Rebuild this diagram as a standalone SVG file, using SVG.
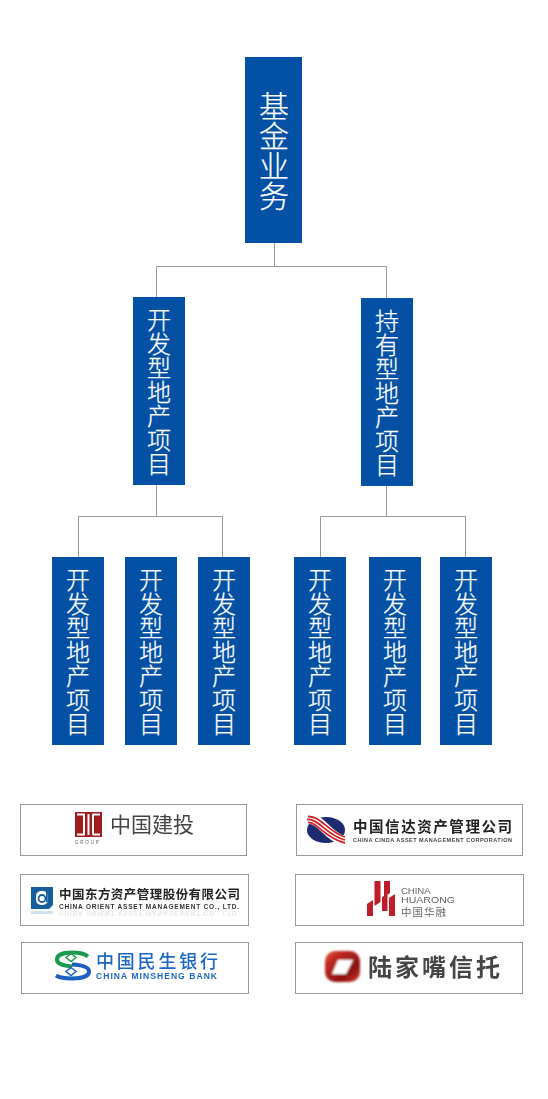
<svg xmlns="http://www.w3.org/2000/svg" width="548" height="1099" viewBox="0 0 548 1099">
<style>
.node{fill:#0450a4}
.t{font-family:"Noto Sans CJK SC","Liberation Sans",sans-serif;fill:#fff;stroke:#fff;stroke-width:.25;text-anchor:middle;font-weight:300}
.t30{font-size:30px}
.t24{font-size:24px}
.conn{fill:none;stroke:#999;stroke-width:1}
.box{fill:#fff;stroke:#999;stroke-width:1}
.c{font-family:"Noto Sans CJK SC","Liberation Sans",sans-serif}
.e{font-family:"Liberation Sans",sans-serif}
.b{font-weight:700}
.soft{filter:url(#soft)}
</style>
<defs>
<filter id="soft" x="-5%" y="-5%" width="110%" height="110%"><feGaussianBlur stdDeviation="0.4"/></filter>
<filter id="soft2" x="-15%" y="-15%" width="130%" height="130%"><feGaussianBlur stdDeviation="0.9"/></filter>
<linearGradient id="red" x1="0" y1="0" x2="1" y2="1"><stop offset="0" stop-color="#e8604a"/><stop offset="0.25" stop-color="#c02a20"/><stop offset="0.7" stop-color="#8c1410"/><stop offset="1" stop-color="#d83a2a"/></linearGradient>
</defs>
<rect width="548" height="1099" fill="#fff"/>
<g id="connectors">
<path class="conn" d="M274.500 243V266.500M156.500 297V266.500H386.500V298"/>
<path class="conn" d="M156.500 485V516.500M78.500 557V516.500H222.500V557"/>
<path class="conn" d="M386.500 486V516.500M320.500 557V516.500H465.500V557"/>
</g>
<g id="node-root"><rect class="node" x="245" y="57" width="57" height="186"/><text class="t t30" x="274 274 274 274" y="117 147 177 207">基金业务</text></g>
<g id="node-dev"><rect class="node" x="133" y="297" width="52" height="188"/><text class="t t24" x="159 159 159 159 159 159 159" y="329 353 377 401 425 449 473">开发型地产项目</text></g>
<g id="node-hold"><rect class="node" x="361" y="298" width="52" height="188"/><text class="t t24" x="387 387 387 387 387 387 387" y="330 354 378 402 426 450 474">持有型地产项目</text></g>
<g id="node-a1"><rect class="node" x="52" y="557" width="52" height="188"/><text class="t t24" x="78 78 78 78 78 78 78" y="589 613 637 661 685 709 733">开发型地产项目</text></g>
<g id="node-a2"><rect class="node" x="125" y="557" width="52" height="188"/><text class="t t24" x="151 151 151 151 151 151 151" y="589 613 637 661 685 709 733">开发型地产项目</text></g>
<g id="node-a3"><rect class="node" x="198" y="557" width="52" height="188"/><text class="t t24" x="224 224 224 224 224 224 224" y="589 613 637 661 685 709 733">开发型地产项目</text></g>
<g id="node-b1"><rect class="node" x="294" y="557" width="52" height="188"/><text class="t t24" x="320 320 320 320 320 320 320" y="589 613 637 661 685 709 733">开发型地产项目</text></g>
<g id="node-b2"><rect class="node" x="369" y="557" width="52" height="188"/><text class="t t24" x="395 395 395 395 395 395 395" y="589 613 637 661 685 709 733">开发型地产项目</text></g>
<g id="node-b3"><rect class="node" x="440" y="557" width="52" height="188"/><text class="t t24" x="466 466 466 466 466 466 466" y="589 613 637 661 685 709 733">开发型地产项目</text></g>

<g id="logo-ccb">
<rect class="box" x="20.500" y="804.500" width="226" height="51"/>
<g class="soft">
<rect x="75" y="812" width="27" height="25" fill="#a01c1e"/>
<path d="M77 814.500H85M84 814.500V834.500M77 834.500H85M92.500 814.500H100M93 814.500V834.500M92.500 834.500H100M88.500 814V835" stroke="#fff" stroke-width="2" fill="none"/>
<text class="e" x="75" y="844" font-size="4.500" letter-spacing="1.800" fill="#666">GROUP</text>
<text class="c" x="110" y="832" font-size="21" fill="#444" font-weight="400">中国建投</text>
</g></g>
<g id="logo-coamc">
<rect class="box" x="20.500" y="874.500" width="228" height="51"/>
<g class="soft">
<path d="M31 887H53V905L49 909H31Z" fill="#175f9f"/>
<rect x="36" y="891" width="12" height="14" rx="5" fill="#fff"/>
<circle cx="42" cy="898.500" r="3.500" fill="none" stroke="#175f9f" stroke-width="1.800"/>
<rect x="46" y="890" width="1.800" height="12" fill="#175f9f"/>
<rect x="31" y="911" width="22" height="3" fill="#cfe2f0"/>
<text class="c b" x="59" y="898.500" font-size="12.500" textLength="181" fill="#222">中国东方资产管理股份有限公司</text>
<text class="e b" x="59" y="909" font-size="6.500" textLength="180" fill="#333">CHINA ORIENT ASSET MANAGEMENT CO., LTD.</text>
<text class="e b" x="59" y="-910.500" font-size="6.500" textLength="180" fill="#ddd" transform="scale(1 -1)" opacity="0.7">CHINA ORIENT ASSET MANAGEMENT CO., LTD.</text>
</g></g>
<g id="logo-cmbc">
<rect class="box" x="21.500" y="942.500" width="227" height="51"/>
<g class="soft">
<path d="M88 956.500C84 953 78 952.500 72 952.500C63 952.500 57 955 57 959.500C57 964 63 965.500 72 966.500" fill="none" stroke="#1d9a4c" stroke-width="4"/>
<path d="M56 975.500C60 978 66 978.500 72 978.500C82 978.500 89 976 89 971.500C89 967 82 965 72 964.500" fill="none" stroke="#1a5fc0" stroke-width="4"/>
<path d="M71 953.500L76 957.500L71 961.500L66 957.500Z" fill="none" stroke="#1d9a4c" stroke-width="1.500"/>
<path d="M71 967.500L76 971.500L71 975.500L66 971.500Z" fill="none" stroke="#1a5fc0" stroke-width="1.500"/>
<text class="c" x="96" y="967.500" font-size="18" textLength="122" fill="#1b68c4" font-weight="500">中国民生银行</text>
<text class="e b" x="96" y="979" font-size="8.500" textLength="121" fill="#1b68c4">CHINA MINSHENG BANK</text>
</g></g>
<g id="logo-cinda">
<rect class="box" x="296.500" y="804.500" width="226" height="51"/>
<g class="soft">
<ellipse cx="326" cy="830" rx="19" ry="13" fill="#1c2a70"/>
<path d="M309 819C321 818 327 836 344 841" fill="none" stroke="#fff" stroke-width="10"/>
<path d="M308 816.500C321 816 328 832 345 837M307 819.500C319 818.500 326 835 345 840M308 822.500C317 821.500 324 838 345 843" fill="none" stroke="#d8202a" stroke-width="1.800"/>
<text class="c b" x="353" y="831.500" font-size="14.500" textLength="159" fill="#222">中国信达资产管理公司</text>
<text class="e b" x="353" y="842" font-size="5.500" textLength="159" fill="#444">CHINA CINDA ASSET MANAGEMENT CORPORATION</text>
</g></g>
<g id="logo-huarong">
<rect class="box" x="295.500" y="874.500" width="228" height="51"/>
<g class="soft">
<path d="M367 904L373 900V916H367ZM374.500 881H380.500V902L374.500 906ZM384 881H390V893L384 897ZM389 898L395 894V916H389ZM382 897L387.500 894V911H382Z" fill="#c01a2c"/>
<text class="e" x="401" y="894" font-size="9.500" fill="#666">CHINA</text>
<text class="e" x="401" y="903" font-size="9.500" textLength="54" lengthAdjust="spacingAndGlyphs" fill="#666">HUARONG</text>
<text class="c" x="401" y="915.500" font-size="10.500" textLength="45" fill="#666">中国华融</text>
</g></g>
<g id="logo-lujiazui">
<rect class="box" x="295.500" y="942.500" width="227" height="51"/>
<g filter="url(#soft2)">
<rect x="325" y="951" width="35" height="31" rx="10" fill="url(#red)"/>
<path d="M338 960H353L346 974H332Z" fill="#fff"/>
</g>
<text class="c b soft" x="368" y="975.500" font-size="24" textLength="132" fill="#444">陆家嘴信托</text>
</g>
</svg>
